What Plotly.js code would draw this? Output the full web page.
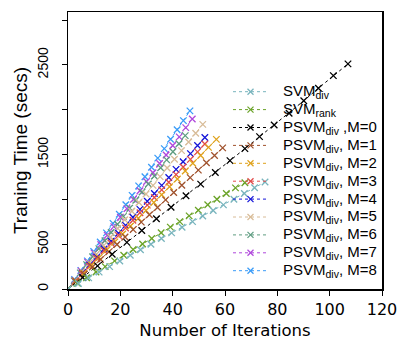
<!DOCTYPE html>
<html>
<head>
<meta charset="utf-8">
<script src="https://cdn.plot.ly/plotly-3.0.1.min.js"></script>
<style>html,body{margin:0;padding:0;background:#fff;}#chart{width:404px;height:340px;}</style>
</head>
<body>
<div id="chart"></div>
<script>
// Series names
const names = ['SVM<sub>div</sub>', 'SVM<sub>rank</sub>', 'PSVM<sub>div</sub> ,M=0', 'PSVM<sub>div</sub>, M=1',
  'PSVM<sub>div</sub>, M=2', 'PSVM<sub>div</sub>, M=3', 'PSVM<sub>div</sub>, M=4', 'PSVM<sub>div</sub>, M=5',
  'PSVM<sub>div</sub>, M=6', 'PSVM<sub>div</sub>, M=7', 'PSVM<sub>div</sub>, M=8'];
const colors = ['#78b4bd', '#6ba328', '#000000', '#a0522d', '#dfa21c', '#e24a4a', '#1414d8', '#d8bc98', '#5e9c80', '#b048dc', '#3a9cf8'];

// Data (iterations, seconds)
const svmDivX = [0, 4.0, 7.9, 11.9, 15.9, 19.8, 23.8, 27.7, 31.7, 35.7, 39.6, 43.6, 47.6, 51.5, 55.5, 59.4, 63.4, 67.4, 71.3, 75.3];
const svmDivY = [0, 62, 124, 188, 250, 312, 376, 438, 500, 564, 626, 688, 752, 814, 876, 938, 1002, 1066, 1130, 1194];
const svmRankX = [0, 3.6, 7.1, 10.7, 14.2, 17.8, 21.3, 24.9, 28.5, 32.0, 35.6, 39.1, 42.7, 46.3, 49.8, 53.4, 56.9, 60.5, 64.0, 67.6];
const svmRankY = [0, 64, 126, 190, 250, 314, 376, 440, 502, 564, 628, 690, 752, 816, 878, 940, 1002, 1066, 1128, 1186];
const m0X = [0, 5.6, 11.3, 16.9, 22.5, 28.2, 33.8, 39.4, 45.1, 50.7, 56.3, 61.9, 67.6, 73.2, 78.8, 84.5, 90.1, 95.7, 101.4, 107];
const m0Y = [0, 128, 258, 388, 520, 652, 784, 912, 1040, 1170, 1300, 1432, 1566, 1700, 1830, 1960, 2100, 2240, 2380, 2511];
const m1X = [0, 3.1, 6.2, 9.3, 12.4, 15.6, 18.7, 21.8, 24.9, 28.0, 31.1, 34.2, 37.3, 40.4, 43.5, 46.7, 49.8, 52.9, 56.0, 59.1];
const m1Y = [0, 82, 164, 246, 330, 414, 496, 580, 662, 746, 828, 910, 994, 1076, 1158, 1242, 1326, 1408, 1490, 1574];
const m2X = [0, 3.0, 6.0, 9.0, 11.9, 14.9, 17.9, 20.9, 23.9, 26.9, 29.8, 32.8, 35.8, 38.8, 41.8, 44.8, 47.7, 50.7, 53.7, 56.7];
const m2Y = [0, 88, 176, 264, 350, 438, 526, 614, 702, 790, 876, 964, 1052, 1140, 1228, 1316, 1402, 1490, 1580, 1669];
const m3X = [0, 2.8, 5.5, 8.3, 11.0, 13.8, 16.5, 19.3, 22.0, 24.8, 27.5, 30.3, 33.0, 35.8, 38.5, 41.3, 44.0, 46.8, 49.5, 52.3];
const m3Y = [0, 86, 170, 256, 340, 426, 510, 596, 680, 766, 850, 936, 1020, 1106, 1190, 1276, 1360, 1446, 1530, 1618];
const m4X = [0, 2.8, 5.5, 8.3, 11.0, 13.8, 16.5, 19.3, 22.0, 24.8, 27.5, 30.3, 33.0, 35.8, 38.5, 41.3, 44.0, 46.8, 49.5, 52.3];
const m4Y = [0, 90, 178, 268, 356, 446, 532, 622, 710, 800, 888, 978, 1066, 1156, 1244, 1334, 1420, 1510, 1600, 1690];
const m5X = [0, 2.7, 5.4, 8.1, 10.8, 13.6, 16.3, 19.0, 21.7, 24.4, 27.1, 29.8, 32.5, 35.2, 37.9, 40.7, 43.4, 46.1, 48.8, 51.5];
const m5Y = [0, 96, 192, 288, 384, 484, 580, 676, 772, 868, 964, 1060, 1156, 1254, 1350, 1448, 1544, 1640, 1738, 1836];
const m6X = [0, 2.4, 4.7, 7.1, 9.4, 11.8, 14.1, 16.5, 18.9, 21.2, 23.6, 25.9, 28.3, 30.7, 33.0, 35.4, 37.7, 40.1, 42.4, 44.8];
const m6Y = [0, 92, 180, 272, 360, 450, 538, 630, 722, 810, 902, 990, 1082, 1172, 1260, 1352, 1440, 1532, 1620, 1711];
const m7X = [0, 2.5, 5.0, 7.5, 10.0, 12.5, 15.0, 17.5, 20.0, 22.5, 25.0, 27.5, 30.0, 32.5, 35.0, 37.5, 40.0, 42.5, 45.0, 47.5];
const m7Y = [0, 98, 201, 298, 400, 497, 600, 696, 800, 897, 1000, 1096, 1199, 1296, 1400, 1495, 1600, 1697, 1800, 1897];
const m8X = [0, 2.5, 4.9, 7.4, 9.8, 12.3, 14.7, 17.2, 19.6, 22.1, 24.5, 27.0, 29.4, 31.9, 34.3, 36.8, 39.2, 41.7, 44.1, 46.6];
const m8Y = [0, 106, 208, 314, 418, 524, 626, 732, 834, 940, 1044, 1150, 1252, 1358, 1460, 1566, 1670, 1776, 1878, 1987];

const xs = [svmDivX, svmRankX, m0X, m1X, m2X, m3X, m4X, m5X, m6X, m7X, m8X];
const ys = [svmDivY, svmRankY, m0Y, m1Y, m2Y, m3Y, m4Y, m5Y, m6Y, m7Y, m8Y];

// Axis ticks
const xTickVals = [0, 20, 40, 60, 80, 100, 120];
const yTickVals = [0, 500, 1500, 2500];
const yMinorVals = [1000, 2000, 3000];

const ARIAL = 'Liberation Sans, Arial, Helvetica, sans-serif';
const WIDE = 'DejaVu Sans, Liberation Sans, sans-serif';

const traces = [];
for (let i = names.length - 1; i >= 0; i--) {
  traces.push({
    type: 'scatter', mode: 'lines+markers', name: names[i],
    x: xs[i], y: ys[i],
    line: {color: colors[i], width: 1, dash: 'dot'},
    marker: {symbol: 'x-thin', size: 6.5, color: colors[i], line: {color: colors[i], width: 1.3}},
    showlegend: false
  });
}

// Manual legend (paper coords)
const W = 314, H = 277; // plot area px
const px = v => v / W, py = v => v / H;
const legX0 = 165, legX1 = 199, legMk = 182.5, legTxt = 213; // px from plot left
const legTop = 197.3, legStep = 17.9; // px from plot bottom
const shapes = [], annotations = [];
names.forEach((n, i) => {
  const yy = legTop - i * legStep;
  shapes.push({type: 'line', xref: 'paper', yref: 'paper', x0: px(legX0), x1: px(legX1), y0: py(yy), y1: py(yy),
    line: {color: colors[i], width: 1, dash: 'dot'}});
  shapes.push({type: 'line', xref: 'paper', yref: 'paper', x0: px(legMk - 3), x1: px(legMk + 3), y0: py(yy - 3), y1: py(yy + 3),
    line: {color: colors[i], width: 1.3}});
  shapes.push({type: 'line', xref: 'paper', yref: 'paper', x0: px(legMk - 3), x1: px(legMk + 3), y0: py(yy + 3), y1: py(yy - 3),
    line: {color: colors[i], width: 1.3}});
  annotations.push({xref: 'paper', yref: 'paper', x: px(legTxt), y: py(yy), xanchor: 'left', yanchor: 'middle',
    text: n, showarrow: false, font: {family: ARIAL, size: 15, color: '#000'}});
});

const layout = {
  width: 404, height: 340,
  margin: {l: 68, r: 22, t: 12, b: 51},
  paper_bgcolor: '#fff', plot_bgcolor: '#fff',
  font: {family: ARIAL, size: 16, color: '#000'},
  showlegend: false,
  xaxis: {
    range: [0, 120], tickmode: 'array', tickvals: xTickVals, ticks: 'outside', ticklen: 5, tickwidth: 1, tickcolor: '#000',
    showline: true, linecolor: '#000', linewidth: 1.5, mirror: true, showgrid: false, zeroline: false,
    tickfont: {family: WIDE, size: 16},
    title: {text: 'Number of Iterations', font: {family: WIDE, size: 16.5}, standoff: 6}
  },
  yaxis: {
    range: [0, 3090], tickmode: 'array', tickvals: yTickVals, tickangle: -90,
    ticks: 'outside', ticklen: 5, tickwidth: 1, tickcolor: '#000', ticklabelstandoff: 8,
    minor: {tickmode: 'array', tickvals: yMinorVals, ticks: 'outside', ticklen: 5, tickwidth: 1, tickcolor: '#000', showgrid: false},
    showline: true, linecolor: '#000', linewidth: 1.5, mirror: true, showgrid: false, zeroline: false,
    tickfont: {family: ARIAL, size: 14},
    title: {text: 'Traning Time (secs)', font: {family: ARIAL, size: 19}, standoff: 2}
  },
  shapes: shapes, annotations: annotations
};

Plotly.newPlot('chart', traces, layout, {displayModeBar: false, staticPlot: true});
</script>
</body>
</html>
